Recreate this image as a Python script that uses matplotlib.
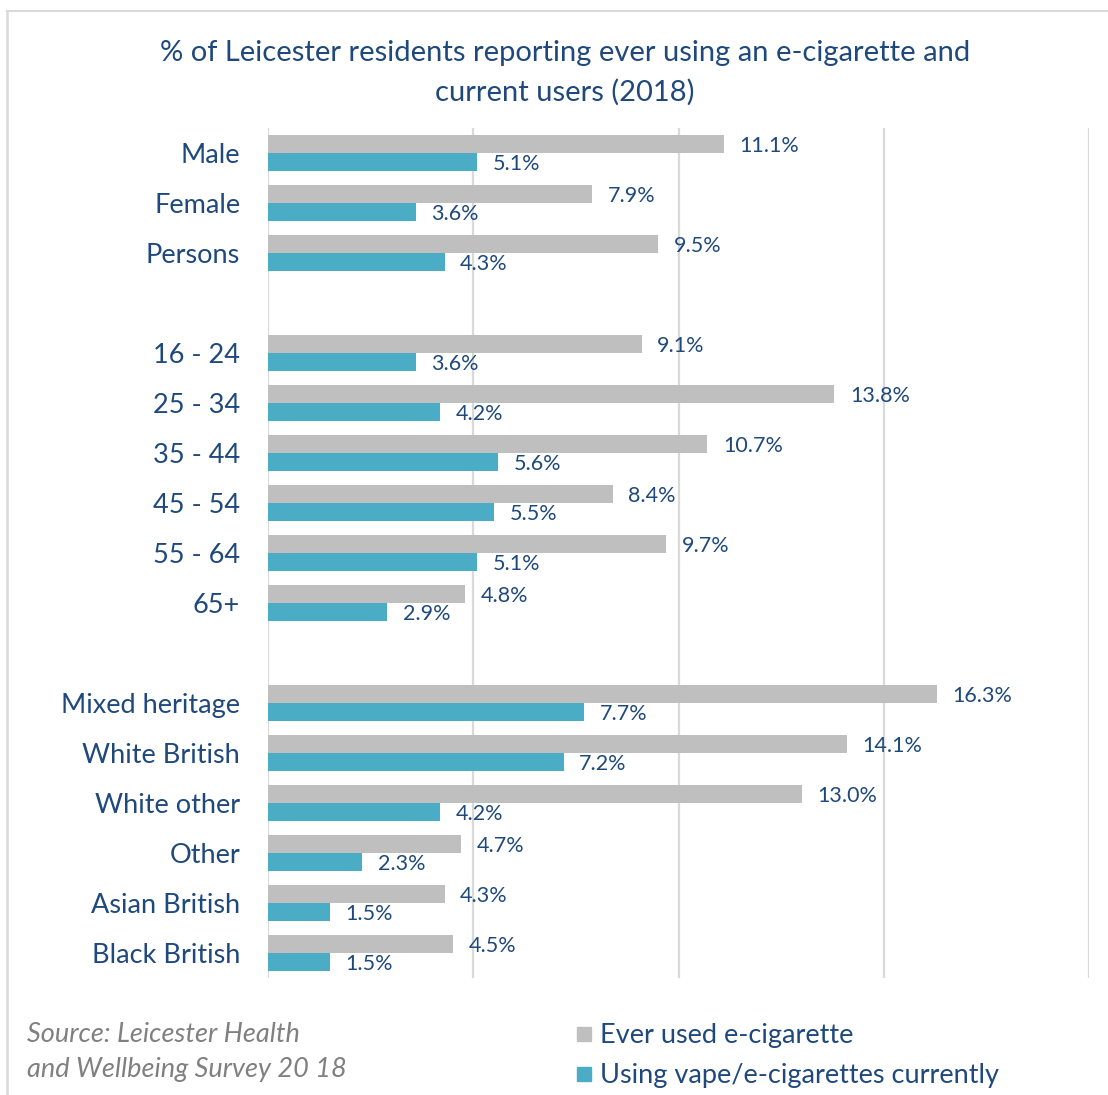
import matplotlib
matplotlib.use("Agg")
import matplotlib.pyplot as plt
from matplotlib.patches import Rectangle
from matplotlib.lines import Line2D
from matplotlib.transforms import offset_copy

plt.rcParams['font.family'] = ['Lato', 'DejaVu Sans']

# Categories (blank strings separate the groups)
categories = ["Male", "Female", "Persons", "",
              "16 - 24", "25 - 34", "35 - 44", "45 - 54", "55 - 64", "65+", "",
              "Mixed heritage", "White British", "White other", "Other",
              "Asian British", "Black British"]
ever_used = [11.1, 7.9, 9.5, None,
             9.1, 13.8, 10.7, 8.4, 9.7, 4.8, None,
             16.3, 14.1, 13.0, 4.7, 4.3, 4.5]
current_users = [5.1, 3.6, 4.3, None,
                 3.6, 4.2, 5.6, 5.5, 5.1, 2.9, None,
                 7.7, 7.2, 4.2, 2.3, 1.5, 1.5]
x_ticks = [0, 5, 10, 15, 20]

title = "% of Leicester residents reporting ever using an e-cigarette and\ncurrent users (2018)"
source = "Source: Leicester Health\nand Wellbeing Survey 20 18"
series_names = ["Ever used e-cigarette", "Using vape/e-cigarettes currently"]

GREY = "#BFBFBF"
TEAL = "#4BACC6"
NAVY = "#1F497D"
GRID = "#D9D9D9"

W, H = 1108, 1095
fig = plt.figure(figsize=(W / 100, H / 100), dpi=100)

ax = fig.add_axes([268 / W, 1 - 978 / H, (1089 - 268) / W, (978 - 128) / H])
label_tr = offset_copy(ax.transData, fig=fig, x=0, y=-2, units="dots")
bar_h = 0.36
for i, (e, c) in enumerate(zip(ever_used, current_users)):
    if e is None:
        continue
    ax.barh(i - bar_h / 2, e, height=bar_h, color=GREY, zorder=2)
    ax.barh(i + bar_h / 2, c, height=bar_h, color=TEAL, zorder=2)
    ax.text(e + 0.38, i - bar_h / 2, f"{e:.1f}%", va="center", ha="left",
            fontsize=15.5, color=NAVY, zorder=3, transform=label_tr)
    ax.text(c + 0.38, i + bar_h / 2, f"{c:.1f}%", va="center", ha="left",
            fontsize=15.5, color=NAVY, zorder=3, transform=label_tr)

ax.set_xlim(0, 20)
ax.set_ylim(len(categories) - 0.5, -0.5)
ax.set_xticks(x_ticks)
ax.set_xticklabels([])
ax.set_yticks(range(len(categories)))
ax.set_yticklabels(categories, fontsize=19.5, color=NAVY)
ax.tick_params(axis="both", length=0, pad=20)
ax.grid(axis="x", color=GRID, linewidth=1.6, zorder=0)
for s in ax.spines.values():
    s.set_visible(False)

fig.text(565 / W, 1 - 73 / H, title, ha="center", va="center",
         fontsize=21, color=NAVY, linespacing=1.58)

fig.text(27 / W, 1 - 1052 / H, source, ha="left", va="center",
         fontsize=19.5, color="#808080", style="italic", linespacing=1.45)

# Legend entries
for k, (name, col) in enumerate(zip(series_names, [GREY, TEAL])):
    yc = 1034 + 40 * k
    fig.patches.append(Rectangle((577 / W, 1 - (yc + 7) / H), 14 / W, 14 / H,
                                 transform=fig.transFigure, color=col))
    fig.text(600 / W, 1 - (yc + 2) / H, name, ha="left", va="center",
             fontsize=19.5, color=NAVY)

# Outer frame (top and left edges)
fig.add_artist(Line2D([7 / W, 1], [1 - 11 / H, 1 - 11 / H], transform=fig.transFigure,
                      color=GRID, linewidth=1.5))
fig.add_artist(Line2D([7 / W, 7 / W], [0, 1 - 11 / H], transform=fig.transFigure,
                      color=GRID, linewidth=1.8))

fig.savefig("out.png", dpi=100, facecolor="white")
